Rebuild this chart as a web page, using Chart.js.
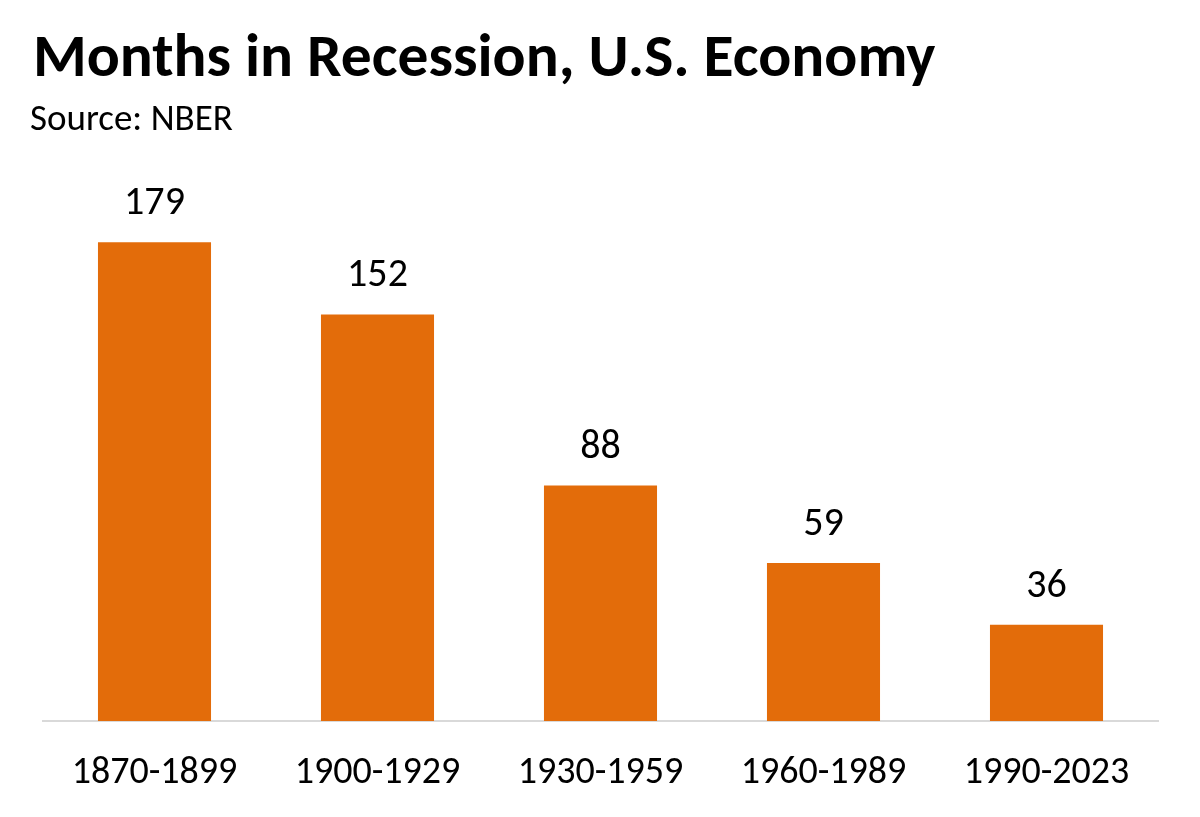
<!DOCTYPE html>
<html>
<head>
<meta charset="utf-8">
<script src="https://cdn.jsdelivr.net/npm/chart.js@4.4.0/dist/chart.umd.min.js"></script>
<style>
  html, body { margin: 0; padding: 0; background: #fff; }
  body { width: 1200px; height: 817px; position: relative; overflow: hidden; font-family: Carlito, Calibri, Lato, sans-serif; }
  #title { position: absolute; left: 33px; top: 25px; font-size: 61.5px; line-height: 1; font-weight: bold; color: #000; white-space: nowrap; }
  #source { position: absolute; left: 30px; top: 99px; font-size: 37px; line-height: 1; color: #000; white-space: nowrap; }
  #wrap { position: absolute; left: 0; top: 0; width: 1200px; height: 840px; }
</style>
</head>
<body>
<div id="wrap"><canvas id="myChart"></canvas></div>
<div id="title">Months in Recession, U.S. Economy</div>
<div id="source">Source: NBER</div>
<script>
const periods = ['1870-1899', '1900-1929', '1930-1959', '1960-1989', '1990-2023'];
const months = [179, 152, 88, 59, 36];

const fontFamily = 'Carlito, Calibri, Lato, sans-serif';

// etiquetas de valor sobre cada barra
const valueLabels = {
  id: 'valueLabels',
  afterDatasetsDraw: function (chart) {
    const ctx = chart.ctx;
    const meta = chart.getDatasetMeta(0);
    ctx.save();
    ctx.font = '40px ' + fontFamily;
    ctx.fillStyle = '#000';
    ctx.textAlign = 'center';
    ctx.textBaseline = 'alphabetic';
    meta.data.forEach((bar, i) => {
      ctx.fillText(String(months[i]), bar.x, bar.y - 28);
    });
    ctx.restore();
  }
};

const ctx = document.getElementById('myChart').getContext('2d');
const chart = new Chart(ctx, {
  type: 'bar',
  data: {
    labels: periods,
    datasets: [{
      label: 'Months in Recession',
      data: months,
      backgroundColor: '#E36C0A',
      borderWidth: 0,
      categoryPercentage: 1,
      barPercentage: 0.507
    }]
  },
  options: {
    responsive: true,
    maintainAspectRatio: false,
    animation: false,
    layout: { padding: { left: 43, right: 42, top: 170, bottom: 14.5 } },
    plugins: {
      legend: { display: false },
      tooltip: { enabled: false }
    },
    scales: {
      x: {
        grid: { display: false, drawTicks: false },
        border: { display: true, color: '#d9d9d9', width: 2 },
        ticks: { color: '#000', font: { family: fontFamily, size: 38 }, padding: 29.5 }
      },
      y: {
        display: false,
        min: 0,
        max: 206
      }
    }
  },
  plugins: [valueLabels]
});
</script>
</body>
</html>
